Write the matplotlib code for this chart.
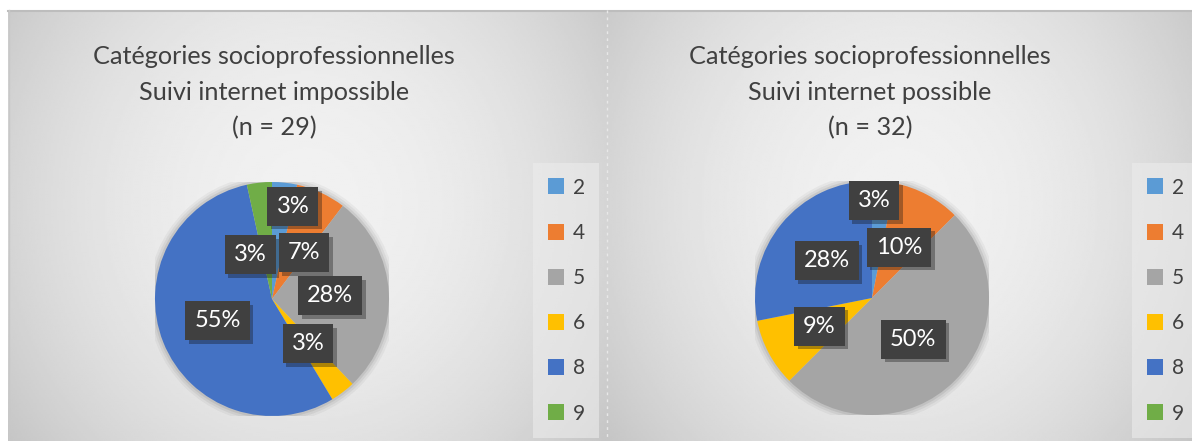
import numpy as np
import matplotlib.pyplot as plt
import matplotlib.patheffects as pe
from matplotlib.patches import Circle

plt.rcParams['font.family'] = ['Lato', 'DejaVu Sans']

# data
categories = ['2', '4', '5', '6', '8', '9']
colors = ['#5B9BD5', '#ED7D31', '#A5A5A5', '#FFC000', '#4472C4', '#70AD47']

counts_impossible = [1, 2, 8, 1, 16, 1]   # n = 29
counts_possible = [1, 3, 16, 3, 9, 0]     # n = 32

pct_impossible = ['3%', '7%', '28%', '3%', '55%', '3%']
pct_possible = ['3%', '10%', '50%', '9%', '28%', '']

titles_impossible = ['Catégories socioprofessionnelles', 'Suivi internet impossible', '(n = 29)']
titles_possible = ['Catégories socioprofessionnelles', 'Suivi internet possible', '(n = 32)']

# label placement: fraction of radius and angle shift (deg) from wedge middle
dist_impossible = [0.81, 0.48, 0.50, 0.49, 0.50, 0.42]
shift_impossible = [-6.5, -10, 0, 1.5, 0, 20]
dist_possible = [0.83, 0.49, 0.50, 0.51, 0.50, 0.50]
shift_possible = [4.4, 0, 0, 0, 0, 0]

W, H = 1192, 441
fig = plt.figure(figsize=(W / 100, H / 100), dpi=100, facecolor='white')


def fx(px):
    return px / W


def fy(py):
    # pixel from top -> figure fraction
    return 1 - py / H


def panel_background(x0, x1, y0, y1):
    ax = fig.add_axes([fx(x0), fy(y1), fx(x1 - x0), (y1 - y0) / H])
    u = np.linspace(-1, 1, 300)
    v = np.linspace(-1, 1, 200)
    U, V = np.meshgrid(u, v)
    val = 0.945 - 0.11 * U ** 2 - 0.05 * (V + 0.1) ** 2
    ax.imshow(val, cmap='gray', vmin=0, vmax=1, aspect='auto',
              extent=(0, 1, 0, 1), interpolation='bilinear')
    ax.set_xlim(0, 1)
    ax.set_ylim(0, 1)
    ax.axis('off')
    return ax


def draw_panel(counts, pct, titles, dists, shifts, cx, cy, r, title_x, leg_x):
    ax = fig.add_axes([fx(cx - r), fy(cy + r), fx(2 * r), 2 * r / H])

    # soft halo behind the pie
    for k, a in zip([1.06, 1.04, 1.02], [0.04, 0.05, 0.07]):
        ax.add_patch(Circle((0, 0), k, color='black', alpha=a, lw=0, zorder=0))

    wedges, _ = ax.pie(counts, colors=colors, startangle=90, counterclock=False,
                       radius=1, wedgeprops=dict(linewidth=0))
    for w in wedges:
        w.set_zorder(1)

    for w, lab, d, s in zip(wedges, pct, dists, shifts):
        if not lab:
            continue
        ang = np.deg2rad((w.theta1 + w.theta2) / 2 + s)
        ax.text(d * np.cos(ang), d * np.sin(ang), lab, ha='center', va='center',
                fontsize=17, color='white', zorder=5,
                bbox=dict(boxstyle='square,pad=0.38', facecolor='#404040',
                          edgecolor='none',
                          path_effects=[pe.SimplePatchShadow(offset=(2.5, -2.5), alpha=0.35),
                                        pe.Normal()]))
    ax.set_xlim(-1, 1)
    ax.set_ylim(-1, 1)
    ax.set_aspect('equal')
    ax.axis('off')

    for line, ty in zip(titles, [57, 92, 128]):
        fig.text(fx(title_x), fy(ty), line, ha='center', va='center',
                 fontsize=18.2, color='#404040')

    leg = ax.legend(wedges, categories, loc='upper left',
                    bbox_to_anchor=(fx(leg_x), fy(163)), bbox_transform=fig.transFigure,
                    frameon=True, fancybox=False, fontsize=15,
                    handlelength=0.8, handleheight=0.8, handletextpad=0.4,
                    labelspacing=1.21, borderpad=0.7, borderaxespad=0)
    frame = leg.get_frame()
    frame.set_facecolor('#ececec')
    frame.set_alpha(0.6)
    frame.set_edgecolor('none')
    for t in leg.get_texts():
        t.set_color('#404040')


panel_background(8, 607, 10, 441)
panel_background(607, 1192, 10, 441)

# panel borders
border = fig.add_axes([0, 0, 1, 1], facecolor='none')
border.set_xlim(0, W)
border.set_ylim(H, 0)
border.axis('off')
border.plot([8, W], [10.5, 10.5], color='#bdbdbd', lw=1.5)
border.plot([8.5, 8.5], [10, H], color='#c8c8c8', lw=1)
border.plot([607, 607], [10, H], color='#e8e8e8', lw=1, ls=(0, (2, 3)))

draw_panel(counts_impossible, pct_impossible, titles_impossible,
           dist_impossible, shift_impossible, 272, 299, 117, 274, 533)
draw_panel(counts_possible, pct_possible, titles_possible,
           dist_possible, shift_possible, 872, 298, 117, 870, 1132)

fig.savefig('out.png', dpi=100, facecolor='white')
